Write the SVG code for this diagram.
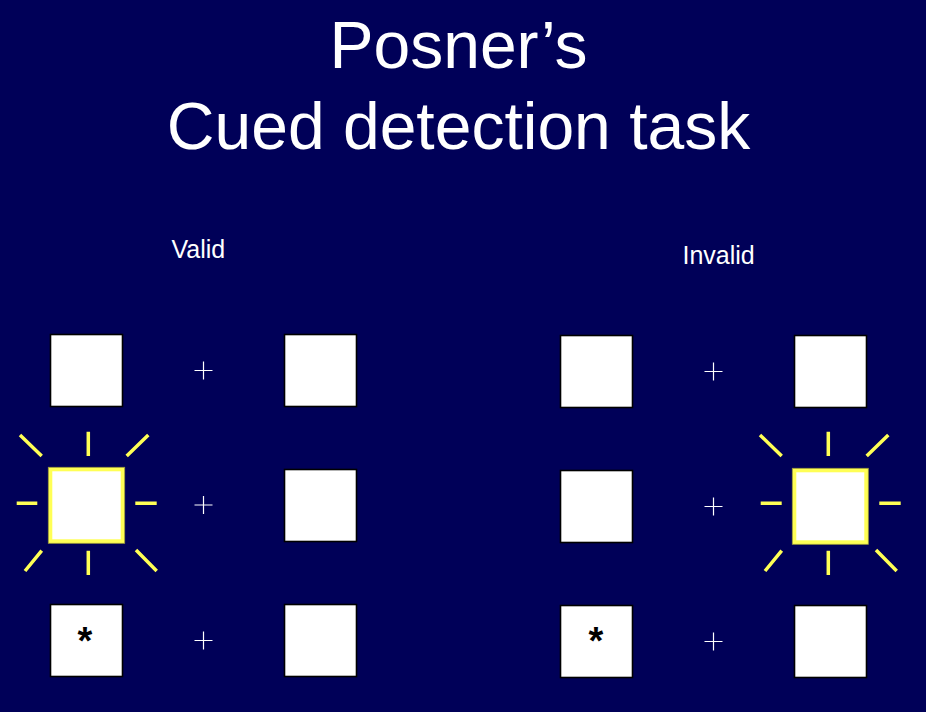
<svg xmlns="http://www.w3.org/2000/svg" width="926" height="712" viewBox="0 0 926 712">
<style>
.title{font-family:"Liberation Sans",Arial,sans-serif;font-size:66px;fill:#fff;text-anchor:middle}
.lbl{font-family:"Liberation Sans",Arial,sans-serif;font-size:25px;fill:#fff}
.box{fill:#fff;stroke:#000;stroke-width:1.6}
.cue{fill:#fff;stroke:#FFFF55;stroke-width:4}
.cueedge{fill:none;stroke:#9c9a3c;stroke-width:0.8}
.cross{stroke:#fff;stroke-width:1.2;fill:none}
.ray{stroke:#FFFF55;stroke-width:3.5;fill:none}
.star{font-family:"Liberation Sans",Arial,sans-serif;font-size:38px;font-weight:bold;fill:#000;text-anchor:middle}
</style>
<rect width="926" height="712" fill="#000058"/>
<g id="title">
<text class="title" x="458.5" y="68">Posner’s</text>
<text class="title" x="458.5" y="149">Cued detection task</text>
</g>
<g id="label-valid"><text class="lbl" x="171.5" y="257.5">Valid</text></g>
<g id="label-invalid"><text class="lbl" x="682.5" y="264">Invalid</text></g>

<g id="valid-row1">
<rect class="box" x="50.5" y="334.5" width="72" height="72"/>
<path class="cross" d="M194.5 370.5H212.5M203.5 361.5V379.5"/>
<rect class="box" x="284.5" y="334.5" width="72" height="72"/>
</g>
<g id="valid-row2">
<g id="valid-cue">
<path class="ray" d="M88.3 431.7V456M88.3 550.7V575M16.7 503.3H37.3M135.3 503.3H156.7M20 435L41.7 456M126.7 456L148.3 435M41.7 550.7L25 571M136 550L156.7 571"/>
<rect class="cue" x="50.3" y="469.3" width="72.4" height="72"/>
<rect class="cueedge" x="48.3" y="467.3" width="76.4" height="76"/>
</g>
<path class="cross" d="M194.5 505H212.5M203.5 496V514"/>
<rect class="box" x="284.5" y="469.5" width="72" height="72"/>
</g>
<g id="valid-row3">
<rect class="box" x="50.5" y="604.5" width="72" height="72"/>
<text class="star" x="85" y="654">*</text>
<path class="cross" d="M194.5 640.5H212.5M203.5 631.5V649.5"/>
<rect class="box" x="284.5" y="604.5" width="72" height="72"/>
</g>

<g id="invalid-row1">
<rect class="box" x="560.5" y="335.5" width="72" height="72"/>
<path class="cross" d="M704.5 371.5H722.5M713.5 362.5V380.5"/>
<rect class="box" x="794.5" y="335.5" width="72" height="72"/>
</g>
<g id="invalid-row2">
<rect class="box" x="560.5" y="470.5" width="72" height="72"/>
<path class="cross" d="M704.5 506.5H722.5M713.5 497.5V515.5"/>
<g id="invalid-cue">
<path class="ray" d="M828.3 431.7V456M828.3 550.7V575M760.7 503.3H781.7M879.3 503.3H900.7M760 435L781.7 456M866.7 456L888.3 435M781.7 550.7L765 571M876 550L896.7 571"/>
<rect class="cue" x="794.3" y="470.3" width="72" height="72"/>
<rect class="cueedge" x="792.3" y="468.3" width="76" height="76"/>
</g>
</g>
<g id="invalid-row3">
<rect class="box" x="560.5" y="605.5" width="72" height="72"/>
<text class="star" x="596" y="654">*</text>
<path class="cross" d="M704.5 641.5H722.5M713.5 632.5V650.5"/>
<rect class="box" x="794.5" y="605.5" width="72" height="72"/>
</g>
</svg>
